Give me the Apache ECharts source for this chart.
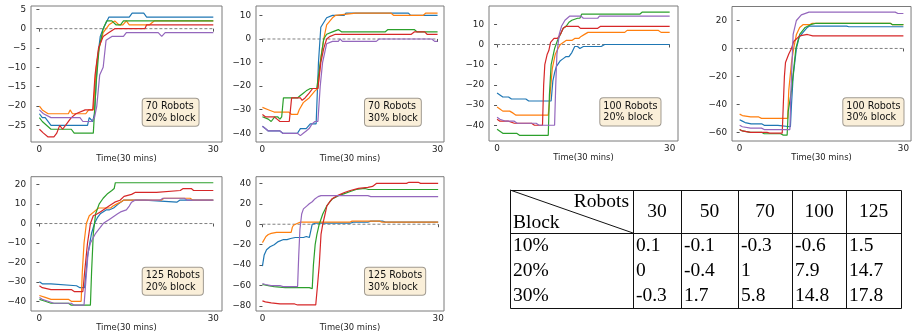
<!DOCTYPE html>
<html><head><meta charset="utf-8">
<script src="https://cdn.jsdelivr.net/npm/echarts@6/dist/echarts.min.js"></script>
<style>html,body{margin:0;padding:0;background:#fff}#c{width:912px;height:333px}</style>
</head><body><div id="c"></div>
<script>
// ---------- DATA ----------
const xTicks = [0, 30];
const zeroLine = [[0, 0], [30, 0]];

// 70 Robots, 20% block
const yTicks_70_20 = [-25, -20, -15, -10, -5, 0, 5];
const r70b20_blue = [[0,-22],[0.5,-23],[1,-23],[2,-25],[8.3,-25],[8.6,-23],[9.2,-24],[9.5,-22],[10,-8],[10.5,-2],[11,0],[12,3],[15.5,3],[16,4],[18,4],[18.5,3],[30,3]];
const r70b20_orange = [[0,-20],[0.5,-21],[1.5,-22],[5,-22],[5.3,-21],[5.7,-22],[8,-22],[8.5,-21],[9.3,-21],[9.8,-10],[10.3,-5],[11,-1],[12,1],[13,2],[13.7,1],[14.4,1],[15,2],[15.5,1],[19,1],[19.8,2],[30,2]];
const r70b20_green = [[0,-23],[0.5,-24],[2,-26],[5.5,-26],[6,-27],[9.3,-27],[9.8,-14],[10.3,-5],[11,0],[11.6,2],[12.5,2],[13.2,1],[14,1],[14.5,2],[30,2]];
const r70b20_red = [[0,-26],[0.7,-27],[1.5,-28],[2.5,-28],[3,-27],[3.5,-25],[4,-26],[4.5,-25],[5.5,-23],[6.3,-22],[7.9,-21],[9.2,-21],[9.6,-12],[10.2,-5],[11,-2],[12,-1],[13,0],[18.2,0],[18.5,1],[30,1]];
const r70b20_purple = [[0,-21],[0.7,-22],[2,-23],[7,-23],[7.5,-24],[9,-24],[9.5,-23],[9.9,-20],[10.4,-12],[11,-10],[11.5,-3],[12.5,-2],[14.5,-2],[15,-1],[20.5,-1],[21.1,-2],[21.7,-1],[30,-1]];

// 70 Robots, 30% block
const yTicks_70_30 = [-40, -30, -20, -10, 0, 10];
const r70b30_blue = [[0,-37],[0.5,-38],[1,-39],[3,-39],[3.5,-40],[6,-40],[6.5,-38],[7.5,-38],[8.2,-36],[9.2,-36],[9.6,-10],[10,5],[11,9],[12,10],[14,10],[14.3,11],[25,11],[25.4,10],[30,10]];
const r70b30_orange = [[0,-29],[1,-30],[2,-31],[4.5,-31],[5,-32],[6,-32],[6.3,-30],[7,-27],[7.5,-26],[8,-25],[9,-22],[9.5,-21],[10,-8],[10.5,0],[11,6],[12,9],[12.5,10],[16,11],[22,11],[22.5,10],[27.5,10],[28,11],[30,11]];
const r70b30_green = [[0,-33],[1,-34],[1.5,-35],[2.1,-33],[2.6,-33],[3,-34],[3.3,-33],[3.6,-25],[6,-25],[6.5,-24],[7,-23],[7.5,-22],[8.2,-21],[9.3,-21],[9.8,-12],[10.5,0],[11,2],[12,3],[13,4],[13.6,3],[21,3],[21.5,4],[26,4],[26.5,3],[30,3]];
const r70b30_red = [[0,-32],[0.5,-33],[2,-33],[2.5,-34],[3,-35],[4.6,-35],[5,-25],[6.5,-25],[6.8,-26],[7.3,-25],[8,-23],[8.6,-21],[9.5,-21],[10,-10],[10.5,-4],[11,0],[11.5,1],[12.5,2],[25.5,2],[26,3],[27.8,3],[28.2,2],[30,2]];
const r70b30_purple = [[0,-37],[0.5,-38],[1,-39],[3,-39],[3.5,-40],[6,-40],[6.5,-41],[7,-40],[7.5,-39],[8,-38],[8.5,-36],[9,-35],[9.5,-35],[9.9,-20],[10.3,-10],[11,-2],[12,-1],[13,-1],[13.3,0],[13.7,-1],[19.5,-1],[20,0],[29,0],[29.5,-1],[30,-1]];

// 100 Robots, 20% block
const yTicks_100_20 = [-40, -30, -20, -10, 0, 10];
const r100b20_blue = [[0,-24],[0.5,-25],[1,-26],[2,-26],[2.5,-27],[5,-27],[5.5,-28],[9.4,-28],[9.7,-18],[10,-14],[10.3,-11],[11,-8],[11.5,-7],[12,-6],[12.5,-6],[13,-4],[13.5,-1],[14,-1],[14.4,-2],[15,-1],[18.1,-1],[18.7,0],[30,0]];
const r100b20_orange = [[0,-31],[0.5,-32],[1,-33],[2.2,-33],[2.8,-34],[3.3,-35],[8.9,-35],[9.2,-25],[9.6,-12],[10.1,-5],[10.6,-2],[11,0],[11.5,1],[12,2],[13,2],[13.5,3],[14.2,3],[14.6,4],[15.2,5],[15.8,6],[22.2,6],[22.6,7],[28,7],[28.5,6],[30,6]];
const r100b20_green = [[0,-42],[0.5,-43],[1,-44],[3.4,-44],[3.9,-45],[8.9,-45],[9.1,-25],[9.4,-10],[10,-2],[10.5,2],[11,5],[11.5,8],[12,9],[12.5,11],[13,12],[14,13],[14.4,13],[14.7,15],[24.8,15],[25.2,16],[30,16]];
const r100b20_red = [[0,-37],[0.5,-38],[2,-38],[3,-39],[6,-39],[6.5,-40],[7.9,-40],[8.1,-20],[8.3,-10],[8.7,-5],[9,-3],[9.3,1],[9.9,3],[10.5,3],[11,5],[11.5,8],[12,9],[14.1,9],[14.5,8],[17.5,8],[18,9],[30,9]];
const r100b20_purple = [[0,-36],[0.5,-37],[1.5,-38],[3,-38],[3.5,-39],[6.8,-39],[7.3,-40],[10,-40],[10.2,-20],[10.4,-5],[10.6,0],[10.8,5],[11.2,9],[11.8,12],[12.6,14],[14.6,14],[15,13],[17.5,13],[17.8,14],[30,14]];

// 100 Robots, 30% block
const yTicks_100_30 = [-60, -40, -20, 0, 20];
const r100b30_blue = [[0,-51],[0.5,-52],[1,-53],[2.1,-54],[4.1,-54],[4.5,-55],[7,-55],[7.3,-56],[9.3,-56],[9.5,-40],[9.8,-20],[10.4,0],[10.9,8],[11.5,11],[12.4,15],[12.8,16],[19.6,16],[20,15.5],[30,15.5]];
const r100b30_orange = [[0,-47],[0.5,-48],[2,-49],[3.5,-49],[4,-50],[8.8,-50],[9,-30],[9.5,-10],[9.9,0],[10.4,10],[11,15],[11.6,17],[12.8,17],[13.3,18],[27.6,18],[28,17],[30,17]];
const r100b30_green = [[0,-58],[0.5,-59],[2,-60],[4,-60],[4.5,-61],[7.5,-61],[8,-62],[8.7,-62],[8.9,-45],[9.5,-30],[10.3,0],[11,10],[12,15],[13,17],[14,18],[27.6,18],[28,17],[30,17]];
const r100b30_red = [[0,-58],[0.5,-59],[2,-60],[5,-60],[5.5,-60.6],[7.8,-60.6],[8,-40],[8.2,-20],[8.4,-10],[9,-4],[9.5,0],[9.9,5],[11,9],[12.4,10],[13.4,9],[30,9]];
const r100b30_purple = [[0,-55],[0.5,-56],[2,-57],[4,-57],[4.5,-58],[9.2,-58],[9.4,-30],[9.6,-10],[9.8,10],[10.4,20],[11.3,24],[12.7,26],[28.5,26],[29,25],[30,25]];

// 125 Robots, 20% block
const yTicks_125_20 = [-40, -30, -20, -10, 0, 10, 20];
const r125b20_blue = [[0,-30],[0.5,-31],[2,-31],[2.1,-32],[6.4,-32],[7,-33],[7.8,-33],[8.3,-17],[8.7,-10],[9,-5],[9.5,0],[10,3],[10.5,5],[11.5,7],[12,7],[12.8,8],[13.6,10],[14.5,12],[18.2,12],[18.5,11],[23.7,11],[24.2,12],[30,12]];
const r125b20_orange = [[0,-37],[1,-38],[2,-39],[5,-39],[5.5,-40],[7.2,-40],[7.4,-25],[7.7,-10],[8.1,0],[8.6,4],[9.4,6],[10.2,8],[12.3,8],[12.7,9],[13.3,10],[14,11],[14.5,12],[21,12],[21.5,13],[26,13],[26.5,12],[30,12]];
const r125b20_green = [[0,-39],[1,-40],[2,-41],[5,-41],[5.5,-42],[8.8,-42],[9,-25],[9.3,-5],[9.7,5],[10.3,10],[11,13],[11.8,15.5],[12.5,17],[12.9,18],[13.1,21],[30,21]];
const r125b20_red = [[0,-32],[0.5,-33],[2,-34],[5.5,-34],[6,-35],[7.5,-35],[7.8,-25],[8.3,-10],[8.8,0],[9.3,4],[10,5],[10.5,6],[11.5,8],[12,9],[13,11],[13.9,12],[14.6,14],[15.9,15],[16.5,16],[20.2,16],[20.5,17],[24.3,17],[24.8,18],[26.2,18],[26.6,17],[30,17]];
const r125b20_purple = [[0,-38],[0.5,-39],[1.5,-40],[2.5,-41],[5.5,-41],[6,-42],[7.7,-42],[8,-30],[8.4,-15],[8.8,-10],[9.7,-5],[10.5,-2],[11,0],[11.5,1],[12,2],[12.5,3],[13,4],[13.5,5],[14,6],[15,7],[15.5,9],[15.9,11],[16.5,12],[20.8,12],[21.3,13],[25,13],[25.5,12],[30,12]];

// 125 Robots, 30% block
const yTicks_125_30 = [-80, -60, -40, -20, 0, 20, 40];
const r125b30_blue = [[0,-41],[0.3,-30],[0.7,-25],[1.3,-22],[2,-20],[2.7,-17],[3.6,-15],[4.2,-15],[4.8,-14],[5.6,-13],[7,-13],[7.5,-12],[8,-13],[8.2,-8],[8.5,0],[9,1],[15,1],[15.5,2],[18,2],[18.5,3],[20.5,3],[21,2],[30,2]];
const r125b30_orange = [[0,-18],[0.6,-12],[1,-10],[1.5,-9],[2.4,-8],[4.4,-8],[4.7,-7],[4.9,-8],[5.1,-3],[5.3,-1],[5.6,0],[6,1],[6.5,2],[14.9,2],[15.3,3],[20,3],[20.4,2],[30,2]];
const r125b30_green = [[0,-59],[1,-60],[2,-61],[3.9,-62],[8,-62],[8.2,-63],[8.5,-63],[8.7,-40],[9,-20],[9.3,-10],[9.7,0],[10.3,10],[11,18],[11.5,22],[12,25],[13,28],[14,30],[15,32],[16,34],[17.5,35],[18.1,34],[30,34]];
const r125b30_red = [[0,-75],[0.5,-76],[1.5,-77],[3,-78],[5.5,-78],[6,-79],[9.1,-79],[9.4,-60],[9.7,-40],[10,-10],[10.3,0],[10.7,10],[11,18],[11.9,25],[12.8,28],[14,31],[15,33],[16.4,35],[18,36],[18.8,37],[19.5,40],[24.6,40],[25,41],[26.6,41],[27,40],[30,40]];
const r125b30_purple = [[0,-58],[0.5,-59],[1.5,-60],[3,-60],[3.5,-61],[6,-61],[6.2,-30],[6.4,-5],[6.7,10],[7,15],[7.6,18],[8,20],[8.5,22],[9,25],[9.5,27],[10,28],[18,28],[18.5,27],[30,27]];

const boxLabels = ['70 Robots\n20% block', '70 Robots\n30% block', '100 Robots\n20% block', '100 Robots\n30% block', '125 Robots\n20% block', '125 Robots\n30% block'];
const xAxisTitle = 'Time(30 mins)';

// table
const tableRobots = [30, 50, 70, 100, 125];
const tableBlocks = ['10%', '20%', '30%'];
const tableRow10 = ['0.1', '-0.1', '-0.3', '-0.6', '1.5'];
const tableRow20 = ['0', '-0.4', '1', '7.9', '14.7'];
const tableRow30 = ['-0.3', '1.7', '5.8', '14.8', '17.8'];

// ---------- LAYOUT / STYLE ----------
const panelData = [
  {ticks: yTicks_70_20, lines: [r70b20_blue, r70b20_orange, r70b20_green, r70b20_red, r70b20_purple]},
  {ticks: yTicks_70_30, lines: [r70b30_blue, r70b30_orange, r70b30_green, r70b30_red, r70b30_purple]},
  {ticks: yTicks_100_20, lines: [r100b20_blue, r100b20_orange, r100b20_green, r100b20_red, r100b20_purple]},
  {ticks: yTicks_100_30, lines: [r100b30_blue, r100b30_orange, r100b30_green, r100b30_red, r100b30_purple]},
  {ticks: yTicks_125_20, lines: [r125b20_blue, r125b20_orange, r125b20_green, r125b20_red, r125b20_purple]},
  {ticks: yTicks_125_30, lines: [r125b30_blue, r125b30_orange, r125b30_green, r125b30_red, r125b30_purple]}
];
const layout = [
  {left:31, top:6, width:191, height:136, xmin:-1.45, xmax:31.5, ymin:-29.3, ymax:5.86, bx:142.7, by:98.7},
  {left:256, top:6, width:188, height:136, xmin:-1.1, xmax:31.1, ymin:-43.7, ymax:14.0, bx:365, by:98.7},
  {left:489, top:6, width:189, height:135, xmin:-1.4, xmax:31.45, ymin:-47.8, ymax:19.06, bx:600.3, by:98.3},
  {left:732, top:6.5, width:190, height:134.5, xmin:-1.4, xmax:31.4, ymin:-66.2, ymax:30, bx:843.3, by:98.3},
  {left:31, top:176.7, width:191, height:134.3, xmin:-1.45, xmax:31.5, ymin:-45, ymax:24.1, bx:142.7, by:267.7},
  {left:256, top:176.7, width:188, height:134.3, xmin:-1.1, xmax:31, ymin:-84.9, ymax:46.5, bx:365, by:267.7}
];
const colors = ['#1f77b4', '#ff7f0e', '#2ca02c', '#d62728', '#9467bd'];
const FONT = 'DejaVu Sans';
const minus = v => String(v).replace('-', '\u2212');

const grids = [], xAxes = [], yAxes = [], series = [], graphics = [];
layout.forEach((L, i) => {
  grids.push({left: L.left, top: L.top, width: L.width, height: L.height, show: true,
    borderColor: '#7a7a7a', borderWidth: 1, backgroundColor: 'transparent', containLabel: false});
  xAxes.push({type: 'value', gridIndex: i, min: L.xmin, max: L.xmax,
    axisLine: {show: false}, splitLine: {show: false},
    axisTick: {show: true, customValues: xTicks, length: 3, lineStyle: {color: '#555', width: 1}},
    axisLabel: {show: true, customValues: xTicks, formatter: minus, fontSize: 8.8, fontFamily: FONT, color: '#222', margin: 3},
    name: xAxisTitle, nameLocation: 'middle', nameGap: 11,
    nameTextStyle: {fontSize: 8.4, fontFamily: FONT, color: '#222'}});
  yAxes.push({type: 'value', gridIndex: i, min: L.ymin, max: L.ymax,
    axisLine: {show: false}, splitLine: {show: false},
    axisTick: {show: true, customValues: panelData[i].ticks, length: 3, lineStyle: {color: '#555', width: 1}},
    axisLabel: {show: true, customValues: panelData[i].ticks, formatter: minus, fontSize: 8.8, fontFamily: FONT, color: '#222', margin: 5}});
  series.push({type: 'line', xAxisIndex: i, yAxisIndex: i, data: zeroLine, symbol: 'none',
    lineStyle: {color: '#808080', width: 1, type: [3, 2]}, silent: true, z: 1});
  panelData[i].lines.forEach((d, k) => {
    series.push({type: 'line', xAxisIndex: i, yAxisIndex: i, data: d, symbol: 'none',
      lineStyle: {color: colors[k], width: 1.2}, itemStyle: {color: colors[k]}, silent: true, z: 2 + k});
  });
  graphics.push({type: 'text', x: L.bx, y: L.by, z: 100,
    style: {text: boxLabels[i], font: '9.6px "DejaVu Sans"', fill: '#111', align: 'left', verticalAlign: 'top',
      lineHeight: 11.3, backgroundColor: '#faefd9', borderColor: '#a09a90', borderWidth: 1, borderRadius: 3,
      padding: [2.5, 3, 2, 3]}});
});

// table graphics
const colEdges = [510, 633, 681, 738, 792, 846, 901];
const rowEdges = [190, 233, 258, 283, 308];
const tStroke = {stroke: '#111', lineWidth: 1};
const TF = '19.5px "Liberation Serif"';
graphics.push({type: 'rect', shape: {x: colEdges[0] + 0.5, y: rowEdges[0] + 0.5, width: colEdges[6] - colEdges[0], height: rowEdges[4] - rowEdges[0]},
  style: {fill: 'none', stroke: '#111', lineWidth: 1}});
graphics.push({type: 'line', shape: {x1: colEdges[0], y1: rowEdges[1] + 0.5, x2: colEdges[6], y2: rowEdges[1] + 0.5}, style: tStroke});
for (let c = 1; c < 6; c++) {
  graphics.push({type: 'line', shape: {x1: colEdges[c] + 0.5, y1: rowEdges[0], x2: colEdges[c] + 0.5, y2: rowEdges[4]}, style: tStroke});
}
graphics.push({type: 'line', shape: {x1: colEdges[0], y1: rowEdges[0], x2: colEdges[1], y2: rowEdges[1]}, style: tStroke});
graphics.push({type: 'text', x: colEdges[1] - 4, y: 202, style: {text: 'Robots', font: TF, fill: '#000', align: 'right', verticalAlign: 'middle'}});
graphics.push({type: 'text', x: colEdges[0] + 3, y: 222.5, style: {text: 'Block', font: TF, fill: '#000', align: 'left', verticalAlign: 'middle'}});
tableRobots.forEach((r, c) => {
  graphics.push({type: 'text', x: (colEdges[c + 1] + colEdges[c + 2]) / 2, y: 212,
    style: {text: String(r), font: TF, fill: '#000', align: 'center', verticalAlign: 'middle'}});
});
const tableRows = [tableRow10, tableRow20, tableRow30];
tableBlocks.forEach((b, r) => {
  const cy = (rowEdges[r + 1] + rowEdges[r + 2]) / 2;
  graphics.push({type: 'text', x: colEdges[0] + 3, y: cy, style: {text: b, font: TF, fill: '#000', align: 'left', verticalAlign: 'middle'}});
  tableRows[r].forEach((v, c) => {
    graphics.push({type: 'text', x: colEdges[c + 1] + 3, y: cy, style: {text: v, font: TF, fill: '#000', align: 'left', verticalAlign: 'middle'}});
  });
});

const chart = echarts.init(document.getElementById('c'), null, {renderer: 'canvas'});
chart.setOption({
  animation: false,
  backgroundColor: '#ffffff',
  grid: grids, xAxis: xAxes, yAxis: yAxes, series: series,
  graphic: graphics
});
</script></body></html>
